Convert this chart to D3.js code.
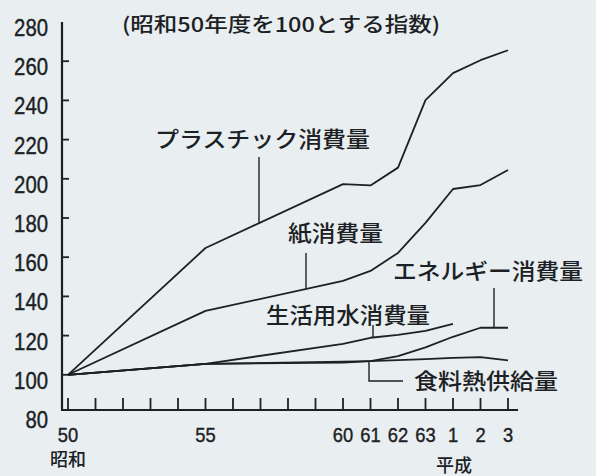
<!DOCTYPE html>
<html>
<head>
<meta charset="utf-8">
<script src="https://cdn.jsdelivr.net/npm/d3@7"></script>
<style>
html,body{margin:0;padding:0;background:#e9eef0;}
svg{display:block;}
</style>
</head>
<body>
<svg id="chart" width="596" height="476"></svg>
<script>
// ---- data ----
const yearIdx   = [0, 5, 10, 11, 12, 13, 14, 15, 16];   // years since 昭和50
const plastic   = [100, 164.7, 197.3, 196.6, 205.7, 240.1, 253.9, 260.5, 265.6];
const paper     = [100, 132.6, 147.9, 153.0, 162.2, 177.5, 194.8, 196.8, 204.5];
const water     = [100, 105.6, 115.8, 118.9, 120.4, 122.4, 126.0];
const energy    = [100, 105.6, 106.2, 107.0, 109.5, 114.0, 119.4, 124.0, 124.0];
const food      = [100, 105.6, 106.7, 107.0, 107.5, 108.0, 108.6, 109.0, 107.4];
const yTicks    = [80, 100, 120, 140, 160, 180, 200, 220, 240, 260, 280];
const xTickIdx  = d3.range(0, 17);
const xLabels   = [[0,"50"],[5,"55"],[10,"60"],[11,"61"],[12,"62"],[13,"63"],[14,"1"],[15,"2"],[16,"3"]];
const title     = "(昭和50年度を100とする指数)";
const seriesNames = ["プラスチック消費量","紙消費量","生活用水消費量","エネルギー消費量","食料熱供給量"];

const ink = "#1b2124";
const svg = d3.select("#chart");
const x = d3.scaleLinear().domain([0,16]).range([68,508]);
const y = d3.scaleLinear().domain([80,280]).range([414,22]);
const numFont = "'Liberation Sans',Arial,sans-serif";
const jpFont = "'Noto Sans CJK JP','Noto Sans CJK SC',sans-serif";

// y axis
svg.append("line").attr("x1",62).attr("x2",62).attr("y1",y(280)).attr("y2",410)
  .attr("stroke",ink).attr("stroke-width",2.2);
svg.selectAll(".ytick").data(yTicks.filter(v=>v>80 && v<280)).join("line")
  .attr("x1",62).attr("x2",69).attr("y1",d=>y(d)).attr("y2",d=>y(d))
  .attr("stroke",ink).attr("stroke-width",1.8);
svg.selectAll(".ylab").data(yTicks).join("text")
  .attr("x",48).attr("y",d=>y(d)+14)
  .attr("text-anchor","end").attr("font-family",numFont).attr("font-size",23)
  .attr("textLength",d=>String(d).length*11.3).attr("lengthAdjust","spacingAndGlyphs")
  .attr("fill",ink).attr("stroke",ink).attr("stroke-width",0.4).text(d=>d);

// x axis
svg.append("line").attr("x1",61).attr("x2",518).attr("y1",410).attr("y2",410)
  .attr("stroke",ink).attr("stroke-width",2.2);
svg.selectAll(".xtick").data(xTickIdx).join("line")
  .attr("x1",d=>x(d)).attr("x2",d=>x(d)).attr("y1",410).attr("y2",398)
  .attr("stroke",ink).attr("stroke-width",1.8);
svg.selectAll(".xlab").data(xLabels).join("text")
  .attr("x",d=>x(d[0])).attr("y",442)
  .attr("text-anchor","middle").attr("font-family",numFont).attr("font-size",21)
  .attr("textLength",d=>d[1].length*10.2).attr("lengthAdjust","spacingAndGlyphs")
  .attr("fill",ink).attr("stroke",ink).attr("stroke-width",0.4).text(d=>d[1]);
svg.append("text").attr("x",x(0)).attr("y",466).attr("text-anchor","middle")
  .attr("font-family",jpFont).attr("font-size",18).attr("font-weight",500).attr("fill",ink).text("昭和");
svg.append("text").attr("x",x(14)+1).attr("y",472).attr("text-anchor","middle")
  .attr("font-family",jpFont).attr("font-size",18).attr("font-weight",500).attr("fill",ink).text("平成");

// title
svg.append("text").attr("x",122).attr("y",32)
  .attr("font-family",jpFont).attr("font-size",20).attr("font-weight",500)
  .attr("textLength",318).attr("lengthAdjust","spacingAndGlyphs")
  .attr("fill",ink).text(title);

// lines
const line = d3.line().x(d=>x(d[0])).y(d=>y(d[1]));
const allSeries = [plastic, paper, water, energy, food];
allSeries.forEach(s=>{
  svg.append("path").datum(s.map((v,i)=>[yearIdx[i],v]))
    .attr("d",line).attr("fill","none").attr("stroke",ink)
    .attr("stroke-width",1.8).attr("stroke-linejoin","round");
});

// value on a series at a fractional year index
function valAt(s, t){
  const xs = yearIdx.slice(0,s.length);
  for(let i=0;i<xs.length-1;i++){
    if(t>=xs[i] && t<=xs[i+1]){
      const f=(t-xs[i])/(xs[i+1]-xs[i]);
      return s[i]+(s[i+1]-s[i])*f;
    }
  }
  return s[s.length-1];
}

// labels + pointers
const labels = [
  {name:seriesNames[0], x:155, cy:139, w:215, s:plastic, px:259, py:157},
  {name:seriesNames[1], x:288, cy:233, w:95,  s:paper,   px:306, py:253},
  {name:seriesNames[2], x:266, cy:315, w:164, s:water,   px:373, py:325},
  {name:seriesNames[3], x:393, cy:271, w:190, s:energy,  px:494, py:288},
  {name:seriesNames[4], x:414, cy:381, w:144, s:food,    px:null}
];
labels.forEach(l=>{
  svg.append("text").attr("x",l.x).attr("y",l.cy+8)
    .attr("font-family",jpFont).attr("font-size",22).attr("font-weight",500)
    .attr("textLength",l.w).attr("lengthAdjust","spacingAndGlyphs")
    .attr("fill",ink).text(l.name);
  if(l.px!==null){
    const t = x.invert(l.px);
    svg.append("line").attr("x1",l.px).attr("x2",l.px)
      .attr("y1",l.py).attr("y2",y(valAt(l.s,t)))
      .attr("stroke",ink).attr("stroke-width",1.4);
  }
});
// food pointer (elbow)
{
  const px=369, t=x.invert(px), yy=y(valAt(food,t));
  svg.append("path").attr("d",`M${px},${yy}V381H403`)
    .attr("fill","none").attr("stroke",ink).attr("stroke-width",1.4);
}
</script>
</body>
</html>
